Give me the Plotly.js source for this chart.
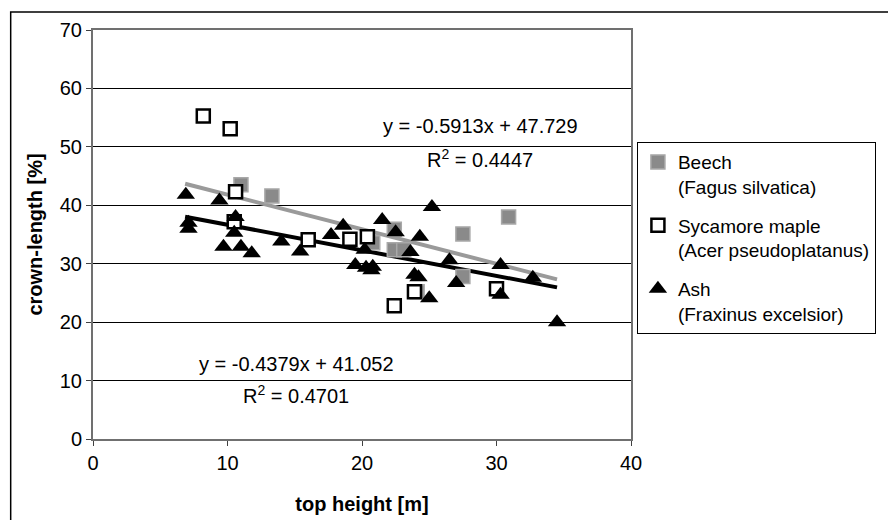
<!DOCTYPE html>
<html>
<head>
<meta charset="utf-8">
<script src="https://cdn.plot.ly/plotly-3.0.1.min.js"></script>
<style>html,body{margin:0;padding:0;background:#fff;}#chart{width:888px;height:520px;}</style>
</head>
<body>
<div id="chart"></div>
<script>
// Data
const beechX = [11.0, 13.3, 30.9, 27.5, 22.4, 22.4, 23.1, 27.5, 24.1, 20.8];
const beechY = [43.5, 41.6, 38.0, 35.1, 35.9, 32.4, 32.4, 27.8, 25.2, 33.6];

const sycX = [8.2, 10.2, 10.6, 10.5, 16.0, 19.1, 20.4, 22.4, 23.9, 30.0];
const sycY = [55.3, 53.1, 42.3, 37.2, 34.1, 34.2, 34.6, 22.8, 25.2, 25.7];

const ashX = [6.9, 7.1, 7.1, 9.4, 10.6, 10.5, 9.7, 11.0, 11.8, 14.0, 15.4, 17.7, 18.6, 20.2, 19.5, 20.3, 20.8, 21.5, 22.5, 23.6, 24.3, 25.2, 23.9, 24.2, 25.0, 26.5, 27.0, 30.3, 30.3, 32.7, 34.5, 20.7];
const ashY = [41.8, 37.0, 36.0, 40.8, 38.0, 35.3, 32.9, 32.9, 31.8, 33.8, 32.1, 34.9, 36.5, 32.4, 29.8, 29.3, 29.5, 37.5, 35.4, 32.0, 34.6, 39.7, 28.1, 27.7, 24.1, 30.6, 26.7, 29.8, 24.7, 27.6, 20.0, 28.9];

// Trendline coefficients (from the chart labels) and the x span they cover
const trendSlope = [-0.5913, -0.4379];
const trendIntercept = [47.729, 41.052];
const trendSpan = [6.85, 34.5];
const eqLabels = ["y = -0.5913x + 47.729", "y = -0.4379x + 41.052"];
const r2Labels = ["R<sup>2</sup> = 0.4447", "R<sup>2</sup> = 0.4701"];

const legendNames = ["Beech<br>(Fagus silvatica)", "Sycamore maple<br>(Acer pseudoplatanus)", "Ash<br>(Fraxinus excelsior)"];
const yTicks = [0, 10, 20, 30, 40, 50, 60, 70];
const xTicks = [0, 10, 20, 30, 40];

function trend(i) {
  return {
    x: trendSpan,
    y: trendSpan.map(v => trendSlope[i] * v + trendIntercept[i]),
    mode: 'lines', showlegend: false, hoverinfo: 'skip',
    line: {color: i === 0 ? '#9a9a9a' : '#000000', width: 4}
  };
}

const FONT = 'Liberation Sans, Arial, Helvetica, sans-serif';

const traces = [
  trend(0), trend(1),
  {x: beechX, y: beechY, mode: 'markers', name: legendNames[0], legendgroup: 'b',
   marker: {symbol: 'square', size: 14, color: '#8a8a8a', line: {color: '#a8a8a8', width: 1.5}}},
  {x: sycX, y: sycY, mode: 'markers', name: legendNames[1], legendgroup: 's',
   marker: {symbol: 'square', size: 13, color: '#ffffff', line: {color: '#000000', width: 2.5}}},
  {x: ashX, y: ashY, mode: 'markers', name: legendNames[2], legendgroup: 'a',
   marker: {symbol: 'triangle-up', size: 16, color: '#000000', line: {width: 0}}}
];

function ann(x, y, text) {
  return {x: x, y: y, xref: 'x', yref: 'y', text: text, showarrow: false, align: 'center',
          font: {family: FONT, size: 20, color: '#000'}};
}

const layout = {
  width: 888, height: 520,
  margin: {l: 93, r: 252, t: 30, b: 81},
  paper_bgcolor: '#ffffff', plot_bgcolor: '#ffffff',
  font: {family: FONT, size: 19, color: '#000'},
  showlegend: true,
  legend: {x: 1.011, xanchor: 'left', y: 0.726, yanchor: 'top', valign: 'top',
           bordercolor: '#000', borderwidth: 1, bgcolor: '#fff',
           font: {family: FONT, size: 19, color: '#000'},
           tracegroupgap: 11, itemwidth: 30},
  xaxis: {range: [0, 40], tickvals: xTicks, ticks: 'outside', ticklen: 5, tickcolor: '#404040',
          showgrid: false, zeroline: false, showline: true, linecolor: '#707070', linewidth: 2, mirror: true,
          tickfont: {family: FONT, size: 20}, fixedrange: true,
          title: {text: '<b>top height [m]</b>', font: {family: FONT, size: 20}, standoff: 24}},
  yaxis: {range: [0, 70], tickvals: yTicks, ticks: 'outside', ticklen: 5, tickcolor: '#404040',
          showgrid: true, gridcolor: '#000000', gridwidth: 1, zeroline: false,
          showline: true, linecolor: '#707070', linewidth: 2, mirror: true,
          tickfont: {family: FONT, size: 20}, fixedrange: true,
          title: {text: '<b>crown-length [%]</b>', font: {family: FONT, size: 20}, standoff: 12}},
  annotations: [
    ann(28.8, 53.5, eqLabels[0]), ann(28.8, 48.0, r2Labels[0]),
    ann(15.1, 12.9, eqLabels[1]), ann(15.1, 7.7, r2Labels[1])
  ],
  shapes: [
    {type: 'rect', xref: 'paper', yref: 'paper', x0: -0.153, x1: 1.6, y0: -0.3, y1: 1.044,
     line: {color: '#000', width: 1.5}, fillcolor: 'rgba(0,0,0,0)', layer: 'below'}
  ]
};

Plotly.newPlot('chart', traces, layout, {displayModeBar: false, staticPlot: true});
</script>
</body>
</html>
